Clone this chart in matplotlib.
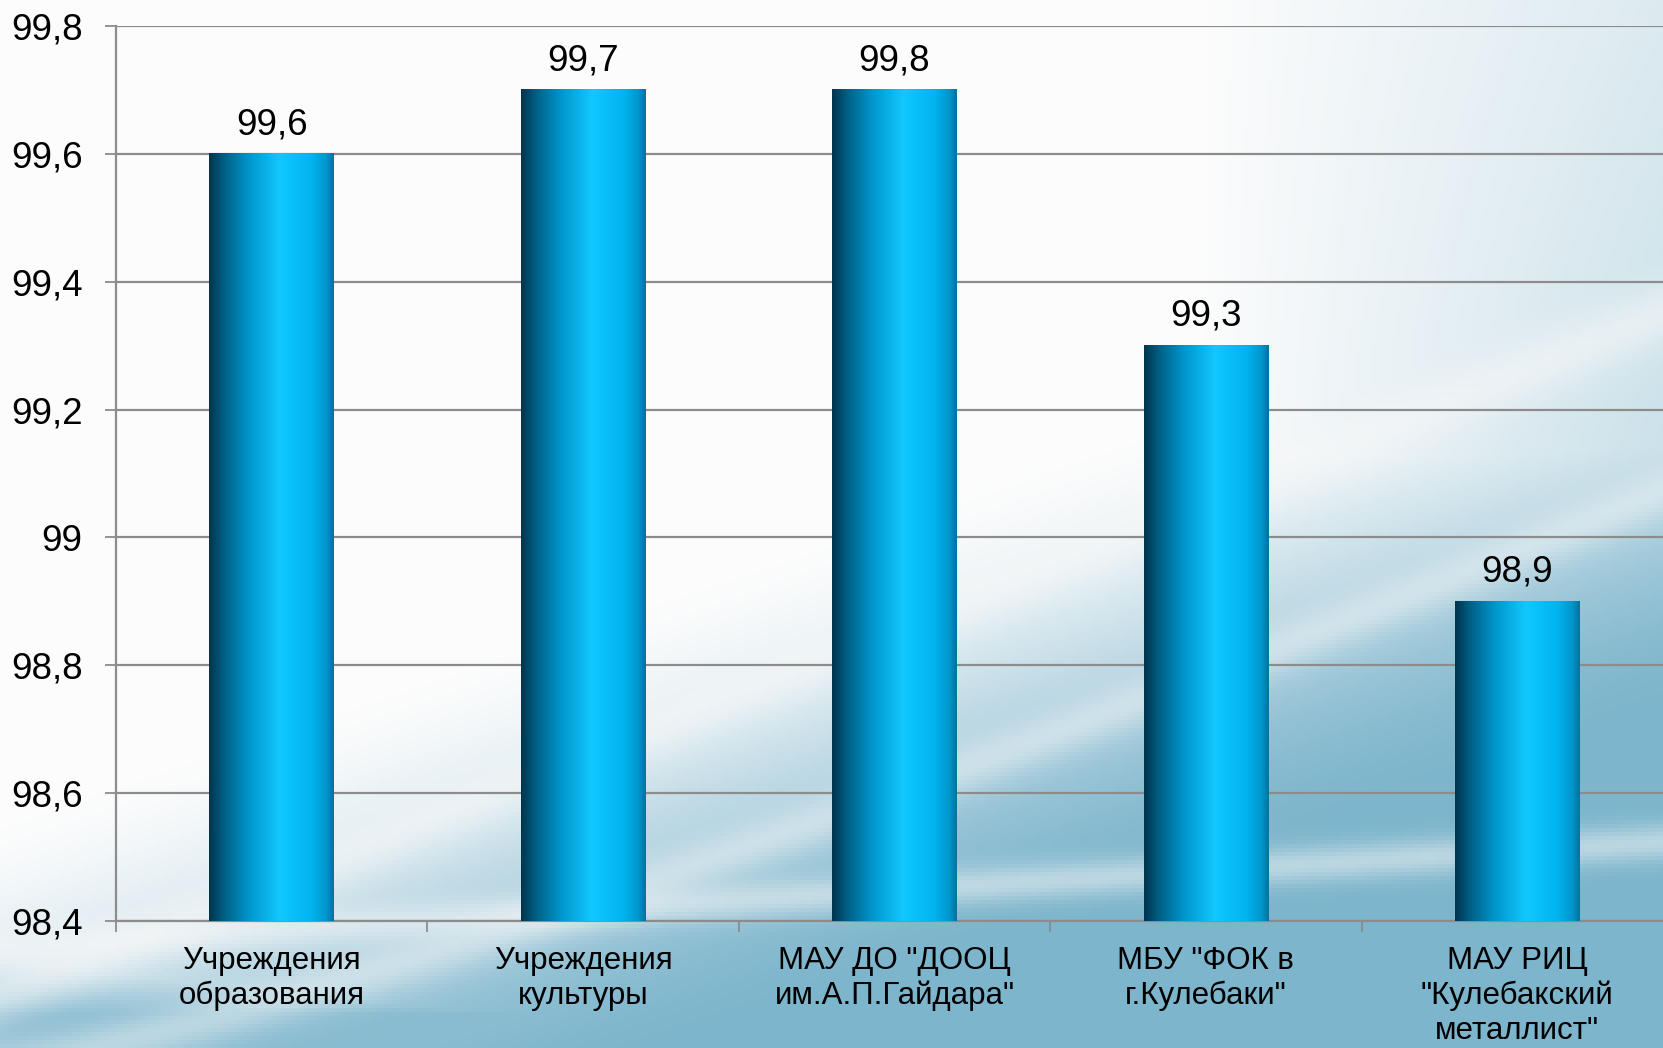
import matplotlib.pyplot as plt
import numpy as np
from matplotlib.colors import LinearSegmentedColormap

plt.rcParams["font.family"] = ["Liberation Sans", "DejaVu Sans"]

# data
categories = [
    "Учреждения\nобразования",
    "Учреждения\nкультуры",
    "МАУ ДО \"ДООЦ\nим.А.П.Гайдара\"",
    "МБУ \"ФОК в\nг.Кулебаки\"",
    "МАУ РИЦ\n\"Кулебакский\nметаллист\"",
]
bar_heights = [99.6, 99.7, 99.7, 99.3, 98.9]
value_labels = ["99,6", "99,7", "99,8", "99,3", "98,9"]
y_ticks = [98.4, 98.6, 98.8, 99.0, 99.2, 99.4, 99.6, 99.8]
y_ticklabels = ["98,4", "98,6", "98,8", "99", "99,2", "99,4", "99,6", "99,8"]

fig = plt.figure(figsize=(16.63, 10.48), dpi=100)

# soft background with diagonal swooshes
bg = fig.add_axes([0, 0, 1, 1], zorder=0)
h, w = 262, 416
yy, xx = np.mgrid[0:1:h * 1j, 0:1:w * 1j]
t = np.clip((yy * 1.3 + xx * 0.7 - 1.0) / 0.6, 0, 1)
t = t * t * (3 - 2 * t)
t = np.maximum(t, np.clip((xx - 0.72) / 0.28, 0, 1) * (0.25 + 0.3 * yy))
t = np.maximum(t, np.clip((yy - 0.90) / 0.07, 0, 1) * 0.9)
white = np.array([0.99, 0.99, 0.99])
blue = np.array([0.49, 0.71, 0.80])
img = white * (1 - t[..., None]) + blue * t[..., None]
bands = [
    (0.95 - 0.65 * xx, 0.03, 0.55),
    (1.02 - 0.55 * xx ** 1.2, 0.025, 0.45),
    (0.905 - 0.10 * xx, 0.018, 0.5),
]
for yc, bw, a in bands:
    m = a * np.exp(-((yy - yc) / bw) ** 2)
    img = img * (1 - m[..., None]) + 0.97 * m[..., None]
bg.imshow(img, extent=(0, 1, 0, 1), aspect="auto", origin="upper")
bg.axis("off")

ax = fig.add_axes([116 / 1663, 127 / 1048, 1557 / 1663, 895 / 1048], zorder=1)
ax.patch.set_alpha(0)

x = np.arange(len(categories))
bar_w = 0.4
ymin, ymax = 98.4, 99.8

grad = LinearSegmentedColormap.from_list(
    "bar",
    [
        (0.0, "#00344d"),
        (0.12, "#005f85"),
        (0.32, "#0096cc"),
        (0.57, "#12c8ff"),
        (0.82, "#00b4f0"),
        (0.94, "#0096cc"),
        (1.0, "#00729c"),
    ],
)
g = np.linspace(0, 1, 256).reshape(1, -1)
for xi, hv, lab in zip(x, bar_heights, value_labels):
    ax.imshow(g, cmap=grad, aspect="auto", extent=(xi - bar_w / 2, xi + bar_w / 2, ymin, hv),
              zorder=3, interpolation="bicubic")
    ax.annotate(lab, (xi, hv), xytext=(0, 21), textcoords="offset points",
                ha="center", va="center", fontsize=26.5, color="black")

ax.set_xlim(-0.5, 4.5)
ax.set_ylim(ymin, ymax)
ax.set_yticks(y_ticks)
ax.set_yticklabels(y_ticklabels, fontsize=26.5)
ax.set_xticks(x)
ax.set_xticklabels(categories, fontsize=22.5, va="top")
ax.set_xticks(np.arange(-0.5, 4.0, 1.0), minor=True)
ax.tick_params(axis="x", which="major", length=0, pad=18)
ax.tick_params(axis="x", which="minor", length=8, width=1.3, color="#8c8c8c")
ax.tick_params(axis="y", length=8, width=1.3, color="#8c8c8c", pad=16)

ax.grid(axis="y", color="#8c8c8c", linewidth=1.6, zorder=1)
ax.set_axisbelow(True)
for s in ["top", "right"]:
    ax.spines[s].set_visible(False)
for s in ["left", "bottom"]:
    ax.spines[s].set_color("#8c8c8c")
    ax.spines[s].set_linewidth(1.6)

fig.savefig("out.png", dpi=100)
